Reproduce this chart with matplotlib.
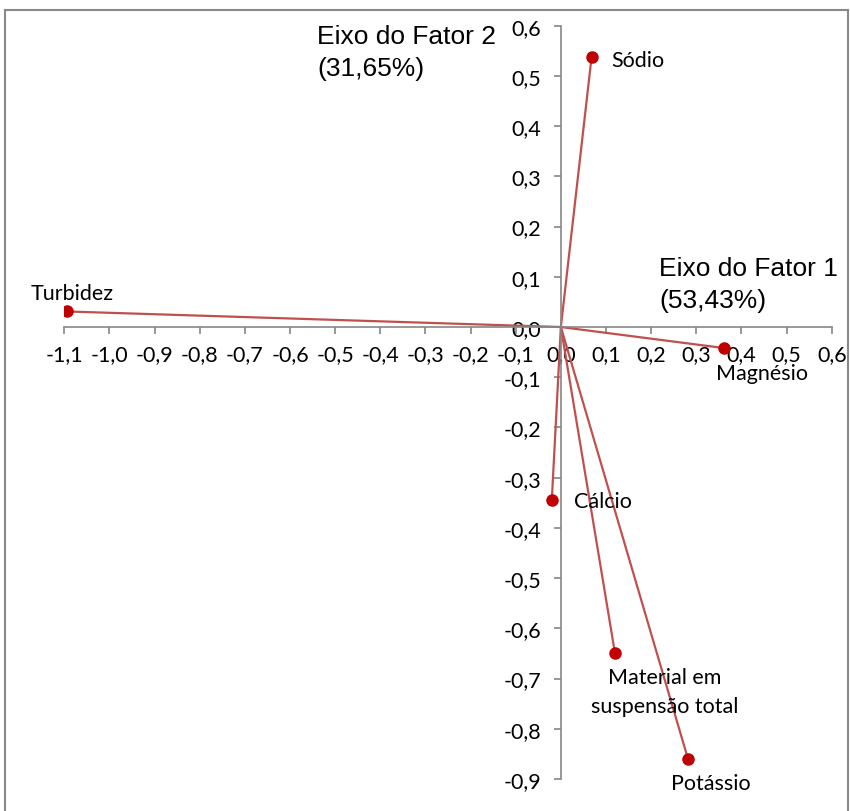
import matplotlib.pyplot as plt
from matplotlib.patches import Rectangle
from matplotlib.ticker import FixedLocator, FixedFormatter

# cargas fatoriais (fator 1, fator 2)
variables = ['Sódio', 'Turbidez', 'Magnésio', 'Cálcio', 'Material em\nsuspensão total', 'Potássio']
factor1 = [0.068, -1.095, 0.362, -0.020, 0.120, 0.282]
factor2 = [0.537, 0.031, -0.042, -0.344, -0.650, -0.861]

x_ticks = [-1.1, -1.0, -0.9, -0.8, -0.7, -0.6, -0.5, -0.4, -0.3, -0.2, -0.1,
           0.0, 0.1, 0.2, 0.3, 0.4, 0.5, 0.6]
y_ticks = [0.6, 0.5, 0.4, 0.3, 0.2, 0.1, 0.0, -0.1, -0.2, -0.3, -0.4,
           -0.5, -0.6, -0.7, -0.8, -0.9]

# posicao dos rotulos (offset em pontos, alinhamento)
label_pos = {
    'Sódio': ((14, -2), 'left', 'center'),
    'Turbidez': ((4, 6), 'center', 'bottom'),
    'Magnésio': ((27, -11), 'center', 'top'),
    'Cálcio': ((16, -1), 'left', 'center'),
    'Material em\nsuspensão total': ((36, -10), 'center', 'top'),
    'Potássio': ((16, -10), 'center', 'top'),
}

font = ['Lato', 'DejaVu Sans']
grey = '#868686'

fig = plt.figure(figsize=(8.5, 8.12), dpi=100)
ax = fig.add_axes([64.3 / 850, 1 - 780 / 812, (831.7 - 64.3) / 850, (780 - 26.7) / 812])

for x, y, name in zip(factor1, factor2, variables):
    ax.plot([0, x], [0, y], color='#C0504D', lw=1.6, zorder=2)
    ax.plot(x, y, 'o', color='#C00000', ms=8, zorder=3)
    off, ha, va = label_pos[name]
    ax.annotate(name, (x, y), xytext=off, textcoords='offset points',
                ha=ha, va=va, fontsize=15.5, family=font, color='black',
                linespacing=1.55)

ax.set_xlim(-1.1, 0.6)
ax.set_ylim(-0.9, 0.6)

for s in ['top', 'right']:
    ax.spines[s].set_visible(False)
for s in ['left', 'bottom']:
    ax.spines[s].set_position(('data', 0))
    ax.spines[s].set_color(grey)
    ax.spines[s].set_linewidth(1.2)

fmt = lambda v: f'{v:.1f}'.replace('.', ',')
ax.xaxis.set_major_locator(FixedLocator(x_ticks))
ax.xaxis.set_major_formatter(FixedFormatter([fmt(v) for v in x_ticks]))
ax.yaxis.set_major_locator(FixedLocator(y_ticks))
ax.yaxis.set_major_formatter(FixedFormatter([fmt(v) for v in y_ticks]))
ax.tick_params(direction='out', length=5, width=1.2, color=grey, labelsize=15.5)
ax.tick_params(axis='x', pad=7)
ax.tick_params(axis='y', pad=9)
for lab in ax.get_xticklabels() + ax.get_yticklabels():
    lab.set_family(font)

fig.text(317 / 850, 1 - 25 / 812, 'Eixo do Fator 2\n(31,65%)', ha='left', va='top',
         fontsize=19, family='Liberation Sans', linespacing=1.4)
fig.text(659 / 850, 1 - 257 / 812, 'Eixo do Fator 1\n(53,43%)', ha='left', va='top',
         fontsize=19, family='Liberation Sans', linespacing=1.4)

fig.patches.append(Rectangle((5 / 850, -0.02), 843 / 850, 1.02 - 11 / 812,
                             transform=fig.transFigure, fill=False,
                             edgecolor='#898989', lw=1.5))

fig.savefig('out.png', dpi=100)
